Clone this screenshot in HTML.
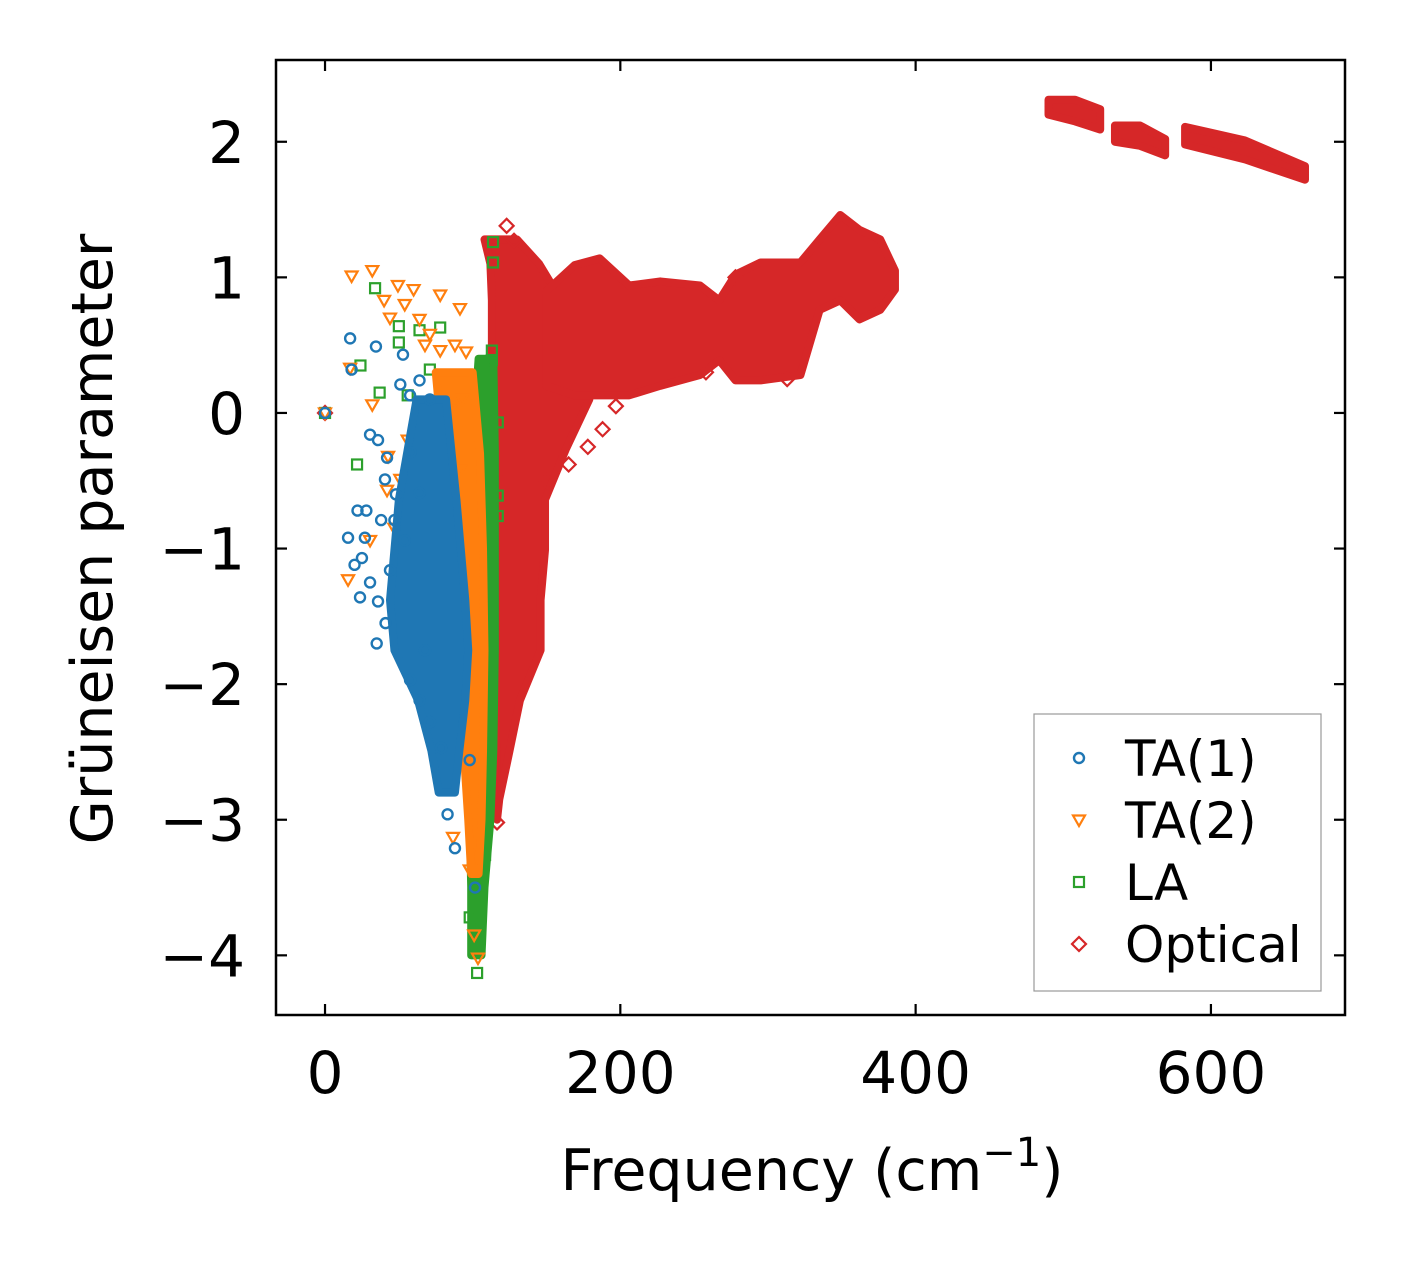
<!DOCTYPE html>
<html><head><meta charset="utf-8"><style>
html,body{margin:0;padding:0;background:#fff;}
svg{display:block;font-family:"DejaVu Sans","Liberation Sans",sans-serif;}
</style></head><body>
<svg id="chart" width="1406" height="1264" viewBox="0 0 1406 1264" xmlns="http://www.w3.org/2000/svg">
<rect width="1406" height="1264" fill="#fff"/>
<g id="plot"></g>
<g id="axes"></g>
<text x="812" y="1190" font-size="57" text-anchor="middle">Frequency (cm<tspan dy="-24" font-size="40">−1</tspan><tspan dy="24">)</tspan></text>
<text transform="translate(112,539) rotate(-90)" font-size="57" text-anchor="middle">Grüneisen parameter</text>
<g id="legend"></g>
</svg>
<script>
const xTicks=[0,200,400,600];
const yTicks=[2,1,0,-1,-2,-3,-4];
const yTickLabels=["2","1","0","−1","−2","−3","−4"];
// Optical dense region (vertical part): y, left x, right x
const optVY=[1.28,1.10,0.83,0.46,0.10,-0.27,-0.64,-1.01,-1.38,-1.75,-2.12,-2.49,-2.85,-3.0];
const optVL=[108,112,113,113,113,113,113,113,114,114,115,116,116,116.5];
const optVR=[130,145,160,176,179,163,149,149,146,146,132,125,118,116.5];
// Optical horizontal part: x, low y, high y
const optHX=[150,169,186,206,227,254,267,278,295,322,335,349,362,376,386];
const optHLo=[0.2,0.13,0.13,0.13,0.20,0.28,0.39,0.24,0.24,0.28,0.76,0.83,0.69,0.76,0.91];
const optHHi=[0.9,1.09,1.14,0.94,0.97,0.94,0.83,1.02,1.11,1.11,1.28,1.46,1.35,1.28,1.05];
// Optical high-frequency segments (null = gap)
const optUX=[490,508,525,null,535,552,569,null,582.5,623,663.7];
const optULo=[2.20,2.15,2.09,null,2.00,1.97,1.90,null,1.98,1.87,1.72];
const optUHi=[2.31,2.31,2.24,null,2.12,2.12,2.02,null,2.11,2.01,1.82];
const optPtsX=[123,128,112,111,197,188,178,165,150,116.5,313,258,278,118,0];
const optPtsY=[1.38,1.27,0.10,-0.2,0.05,-0.12,-0.25,-0.38,-0.5,-3.02,0.25,0.3,1.0,-0.5,0];
// LA dense strip
const laVY=[0.4,-0.27,-1.01,-1.75,-2.49,-3.0,-3.5,-4.0];
const laVL=[104,100,98,98,98,98,99,99];
const laVR=[114,115,115,115,114,112,108,106];
const laPtsX=[33.9,24,21.7,50,50,64,78,37,56,71,84.6,113.8,113.8,113,113,117,111.8,117,117,103,98,108.4,0,101.6,92.8,103.6,110.4];
const laPtsY=[0.92,0.35,-0.38,0.64,0.52,0.61,0.63,0.15,0.13,0.32,0.24,1.11,1.26,0.46,0.39,-0.07,-0.31,-0.61,-0.76,-4.13,-3.72,-3.26,0,-0.2,0.1,-1.6,-2.12];
// TA(2) dense strip
const ta2VY=[0.3,-0.3,-1.0,-1.75,-2.5,-3.0,-3.4];
const ta2VL=[75,80,86,90,94,97,99];
const ta2VR=[100,105,107,108,107,106,104];
const ta2PtsX=[18,32,49.4,60,78,91.4,95.5,40,44,54,64,71,67.7,78,88,17,32,15.6,56,51,42.7,57.6,42,47,30.5,61.6,86.7,103.6,101,98,92.8,98,84.6,81,91.4,0];
const ta2PtsY=[1.01,1.05,0.94,0.91,0.87,0.77,0.45,0.83,0.7,0.8,0.69,0.58,0.5,0.46,0.5,0.33,0.06,-1.23,-0.2,-0.49,-0.32,-0.38,-0.57,-0.85,-0.94,-1.38,-3.13,-4.02,-3.85,-3.37,0.1,-0.13,0.02,-0.2,-0.42,0];
// TA(1) dense strip
const ta1VY=[0.1,-0.64,-1.38,-1.75,-2.12,-2.49,-2.8];
const ta1VL=[62,50,44,47,63,72,77];
const ta1VR=[82,89,95,97,95,91,88];
const ta1PtsX=[17,18,34.5,30.5,35.9,42,15.6,28,38,20,25,23.7,30.5,35,35.9,44,48,51,57.6,52.8,64,71,58,64,47,54,57.6,64,71,78.6,88,83,0,67.7,40.6,22,27,41,98,101.6];
const ta1PtsY=[0.55,0.32,0.49,-0.16,-0.2,-0.33,-0.92,-0.72,-0.79,-1.12,-1.07,-1.36,-1.25,-1.70,-1.39,-1.16,-0.6,0.21,0.13,0.43,0.24,0.1,-0.29,-0.59,-0.79,-0.94,-1.97,-2.12,-2.28,-2.47,-3.21,-2.96,0,-1.75,-0.49,-0.72,-0.92,-1.55,-2.56,-3.5];

const X0=276,X1=1345,Y0=60,Y1=1015;
const xMin=-33.2,xMax=690.8,yMin=-4.44,yMax=2.603;
const sx=v=>X0+(v-xMin)/(xMax-xMin)*(X1-X0);
const sy=v=>Y1-(v-yMin)/(yMax-yMin)*(Y1-Y0);
const NS="http://www.w3.org/2000/svg";
const plot=document.getElementById('plot');
const C={ta1:"#1f77b4",ta2:"#ff7f0e",la:"#2ca02c",opt:"#d62728"};
function mk(tag,attrs,parent){const e=document.createElementNS(NS,tag);for(const k in attrs)e.setAttribute(k,attrs[k]);parent.appendChild(e);return e;}
function vstrip(Y,L,R,color,name){
  const pts=[];for(let i=0;i<Y.length;i++)pts.push(sx(L[i])+","+sy(Y[i]));
  for(let i=Y.length-1;i>=0;i--)pts.push(sx(R[i])+","+sy(Y[i]));
  const p=mk('polygon',{points:pts.join(' '),fill:color,stroke:color,'stroke-width':8,'stroke-linejoin':'round'},plot);
  
  
}
function hband(X,Lo,Hi,color,name){
  let seg=[];const segs=[];
  for(let i=0;i<=X.length;i++){if(i===X.length||X[i]===null){if(seg.length)segs.push(seg);seg=[];}else seg.push(i);}
  segs.forEach(s=>{const pts=[];s.forEach(i=>pts.push(sx(X[i])+","+sy(Hi[i])));
    s.slice().reverse().forEach(i=>pts.push(sx(X[i])+","+sy(Lo[i])));
    const p=mk('polygon',{points:pts.join(' '),fill:color,stroke:color,'stroke-width':8,'stroke-linejoin':'round'},plot);
    
    });
}
function marker(kind,cx,cy,color,parent){
  let e;
  if(kind==='o')e=mk('circle',{cx:cx,cy:cy,r:5,fill:'none',stroke:color,'stroke-width':2.4},parent);
  else if(kind==='v')e=mk('polygon',{points:`${cx-6},${cy-4.5} ${cx+6},${cy-4.5} ${cx},${cy+6}`,fill:'none',stroke:color,'stroke-width':2.2},parent);
  else if(kind==='s')e=mk('rect',{x:cx-5,y:cy-5,width:10,height:10,fill:'none',stroke:color,'stroke-width':2.2},parent);
  else e=mk('polygon',{points:`${cx},${cy-7} ${cx+7},${cy} ${cx},${cy+7} ${cx-7},${cy}`,fill:'none',stroke:color,'stroke-width':2.2},parent);
  return e;
}
function pts(X,Y,kind,color,name){X.forEach((x,i)=>{const e=marker(kind,sx(x),sy(Y[i]),color,plot);
  
  });}
vstrip(optVY,optVL,optVR,C.opt,'optical-dense-region');
hband(optHX,optHLo,optHHi,C.opt,'optical-dense-band');
hband(optUX,optULo,optUHi,C.opt,'optical-high-band');
pts(optPtsX,optPtsY,'d',C.opt,'optical-point');
vstrip(laVY,laVL,laVR,C.la,'la-dense-region');
pts(laPtsX,laPtsY,'s',C.la,'la-point');
vstrip(ta2VY,ta2VL,ta2VR,C.ta2,'ta2-dense-region');
pts(ta2PtsX,ta2PtsY,'v',C.ta2,'ta2-point');
vstrip(ta1VY,ta1VL,ta1VR,C.ta1,'ta1-dense-region');
pts(ta1PtsX,ta1PtsY,'o',C.ta1,'ta1-point');
const ax=document.getElementById('axes');
const fr=mk('rect',{x:X0,y:Y0,width:X1-X0,height:Y1-Y0,fill:'none',stroke:'#000','stroke-width':2.5},ax);


xTicks.forEach(v=>{const x=sx(v);
  mk('line',{x1:x,y1:Y1,x2:x,y2:Y1-11,stroke:'#000','stroke-width':2.2},ax);
  mk('line',{x1:x,y1:Y0,x2:x,y2:Y0+11,stroke:'#000','stroke-width':2.2},ax);
  const t=mk('text',{x:x,y:1093,'font-size':58,'text-anchor':'middle'},ax);t.textContent=String(v);
  
  });
yTicks.forEach((v,i)=>{const y=sy(v);
  mk('line',{x1:X0,y1:y,x2:X0+11,y2:y,stroke:'#000','stroke-width':2.2},ax);
  mk('line',{x1:X1,y1:y,x2:X1-11,y2:y,stroke:'#000','stroke-width':2.2},ax);
  const t=mk('text',{x:245,y:y+21,'font-size':58,'text-anchor':'end'},ax);t.textContent=yTickLabels[i];
  
  });
const lg=document.getElementById('legend');
mk('rect',{x:1034,y:714,width:287,height:277,fill:'#fff',stroke:'#999','stroke-width':1.2},lg);
const legendNames=["TA(1)","TA(2)","LA","Optical"];
const legendKinds=['o','v','s','d'];
const legendColors=[C.ta1,C.ta2,C.la,C.opt];
legendNames.forEach((n,i)=>{const y=758+i*62;
  const g=mk('g',{},lg);
  
  
  marker(legendKinds[i],1079,y,legendColors[i],g);
  const t=mk('text',{x:1125,y:y+18,'font-size':50},g);t.textContent=n;});
</script>
</body></html>
